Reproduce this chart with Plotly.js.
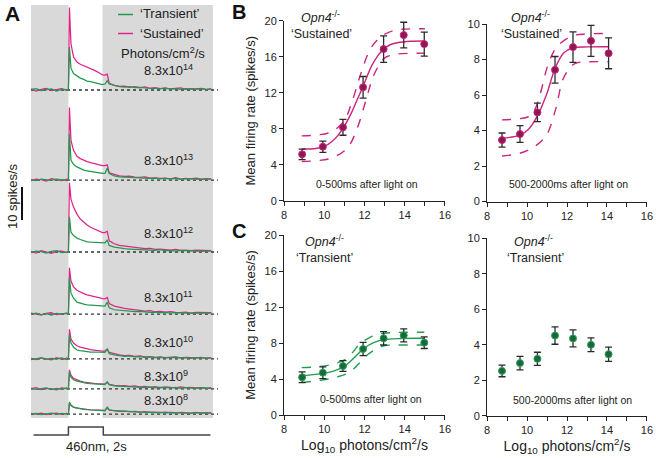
<!DOCTYPE html>
<html><head><meta charset="utf-8">
<script src="https://cdn.plot.ly/plotly-3.0.1.min.js"></script>
<style>html,body{margin:0;padding:0;background:#fff}#chart{width:656px;height:458px}</style>
</head><body><div id="chart"></div>
<script>
// ---------- Panel A: PSTH traces (spikes/s) ----------
const T = [-2.2,-1.9,-1.6,-1.3,-1.0,-0.7,-0.4,-0.1,0,
  0.06,0.15,0.3,0.5,0.7,0.9,1.1,1.3,1.5,1.7,1.9,2.0,
  2.15,2.28,
  2.4,2.7,3.0,3.3,3.6,3.9,4.2,4.5,4.8,5.1,5.4,5.7,6.0,6.3,6.6,6.9,7.2,7.5,7.8,8.1,8.4];
const sus14 = [0.3,-0.3,0.2,0.5,-0.2,0.1,0.4,-0.1,0.0, 25,14,10,8.5,7.8,7.4,6.9,6.4,6.0,5.5,5.0,4.6, 4.5,4.8, 2.0,1.4,1.1,1.2,0.8,1.0,0.7,0.9,0.5,0.7,0.4,0.6,0.3,0.5,0.6,0.2,0.4,0.3,0.5,0.2,0.3];
const tra14 = [0.2,0.4,-0.2,0.1,0.3,-0.3,0.2,0.1,0.0, 13,6.6,5.0,4.3,3.6,3.2,2.7,2.5,2.2,1.9,1.6,1.6, 1.8,2.8, 1.8,1.3,1.0,0.9,1.0,0.7,0.8,0.6,0.5,0.6,0.4,0.5,0.3,0.4,0.2,0.4,0.3,0.2,0.4,0.1,0.3];
const sus13 = [-0.2,0.3,0.1,-0.3,0.4,0.0,-0.2,0.3,0.0, 22,12,9.0,7.2,6.5,6.0,5.6,5.3,5.0,4.8,4.6,4.4, 4.4,4.6, 2.2,1.7,1.3,1.1,1.2,0.9,0.8,1.0,0.6,0.7,0.5,0.6,0.4,0.7,0.3,0.5,0.4,0.6,0.3,0.4,0.3];
const tra13 = [0.1,-0.2,0.3,0.2,-0.1,0.3,0.1,-0.2,0.0, 14,6.0,4.8,4.0,3.4,3.0,2.8,2.6,2.4,2.2,2.1,2.0, 2.0,3.6, 2.0,1.3,1.0,0.9,0.8,0.9,0.6,0.7,0.5,0.6,0.4,0.5,0.3,0.5,0.2,0.4,0.3,0.4,0.2,0.3,0.3];
const sus12 = [0.2,-0.3,0.4,0.0,-0.4,0.2,0.3,-0.1,0.0, 21,16,13.6,11.5,10,9,8.2,7.5,7.0,6.5,6.1,5.9, 5.9,6.3, 3.4,2.5,2.0,1.8,1.5,1.3,1.2,1.0,1.1,0.8,0.9,0.7,0.6,0.8,0.5,0.6,0.4,0.6,0.5,0.3,0.4];
const tra12 = [-0.1,0.3,0.1,-0.3,0.2,0.4,-0.2,0.1,0.0, 10.6,6.0,5.0,4.2,3.8,3.4,3.1,3.0,2.9,2.8,2.9,2.8, 2.8,3.6, 2.0,1.5,1.2,1.0,0.9,0.8,0.9,0.7,0.6,0.5,0.7,0.4,0.5,0.3,0.5,0.4,0.3,0.4,0.2,0.3,0.3];
const sus11 = [0.3,0.0,-0.3,0.2,0.4,-0.2,0.1,0.3,0.0, 14,10,8.2,7.2,6.6,6.2,5.8,5.5,5.2,5.0,4.8,4.7, 4.6,5.0, 3.2,2.4,2.0,1.7,1.5,1.2,1.1,0.9,1.0,0.7,0.8,0.6,0.7,0.5,0.4,0.6,0.3,0.5,0.4,0.3,0.4];
const tra11 = [0.0,0.3,-0.2,0.1,-0.3,0.2,0.0,0.2,0.0, 11,6.4,4.8,3.6,3.2,3.0,2.8,2.7,2.6,2.5,2.5,2.4, 2.4,3.6, 1.9,1.3,1.1,0.9,0.8,0.7,0.8,0.6,0.5,0.6,0.4,0.5,0.3,0.4,0.3,0.4,0.2,0.3,0.3,0.2,0.3];
const sus10 = [0.2,-0.2,0.3,0.1,-0.3,0.4,-0.1,0.2,0.0, 9,6,4.8,4.0,3.6,3.3,3.0,2.8,2.7,2.5,2.4,2.4, 2.4,3.0, 2.0,1.5,1.2,1.0,1.1,0.8,0.9,0.6,0.7,0.5,0.6,0.4,0.5,0.6,0.3,0.5,0.4,0.3,0.5,0.2,0.3];
const tra10 = [-0.2,0.1,0.3,-0.1,0.2,0.0,0.3,-0.2,0.0, 7.3,4.8,3.6,2.7,2.5,2.3,2.2,2.1,2.1,2.0,2.0,2.0, 2.0,3.0, 1.6,1.2,1.0,0.8,0.9,0.6,0.7,0.5,0.6,0.4,0.5,0.3,0.4,0.5,0.3,0.4,0.2,0.4,0.3,0.2,0.3];
const sus9 = [0.1,0.4,-0.2,0.2,0.0,-0.3,0.3,0.1,0.0, 5.8,4.2,3.2,2.7,2.4,2.1,1.9,1.8,1.7,1.6,1.5,1.5, 1.5,2.1, 1.4,1.1,0.9,1.0,0.8,0.9,0.6,0.8,0.5,0.7,0.4,0.6,0.5,0.3,0.6,0.4,0.5,0.3,0.4,0.2,0.4];
const tra9 = [0.2,-0.1,0.1,0.3,-0.2,0.2,-0.1,0.3,0.0, 5.2,3.6,2.8,2.4,2.1,1.9,1.7,1.6,1.5,1.4,1.4,1.3, 1.3,2.1, 1.3,0.9,0.8,0.7,0.8,0.5,0.6,0.4,0.6,0.3,0.5,0.4,0.3,0.5,0.2,0.4,0.3,0.2,0.4,0.3,0.2];
const sus8 = [0.2,0.0,0.3,-0.2,0.1,0.3,-0.1,0.2,0.0, 3.3,2.6,2.1,1.8,1.6,1.5,1.4,1.3,1.3,1.2,1.2,1.1, 1.1,1.9, 1.2,1.0,0.8,0.9,0.7,0.8,0.6,0.7,0.5,0.6,0.4,0.6,0.5,0.3,0.5,0.4,0.3,0.5,0.2,0.4,0.3];
const tra8 = [0.0,0.2,-0.2,0.1,0.3,-0.1,0.2,0.0,0.0, 3.6,2.7,2.1,1.8,1.5,1.4,1.3,1.2,1.2,1.1,1.1,1.0, 1.0,2.1, 1.3,1.0,0.9,0.8,0.7,0.8,0.6,0.5,0.6,0.4,0.5,0.3,0.5,0.4,0.3,0.4,0.2,0.4,0.3,0.2,0.3];
const intensityLabels = ['8.3x10<sup>14</sup>','8.3x10<sup>13</sup>','8.3x10<sup>12</sup>','8.3x10<sup>11</sup>','8.3x10<sup>10</sup>','8.3x10<sup>9</sup>','8.3x10<sup>8</sup>'];
const stimT = [-2.05, 0, 0, 2.05, 2.05, 8.35];
const stimV = [0, 0, 1, 1, 0, 0];

// ---------- Panels B/C: irradiance-response ----------
const logIrrLeft  = [8.9, 9.93, 10.93, 11.93, 12.95, 13.95, 14.97];
const logIrrRight = [8.75, 9.65, 10.52, 11.4, 12.3, 13.2, 14.08];
const susEarly    = [5.15, 6.0, 8.15, 12.6, 16.85, 18.4, 17.4];
const susEarlyErr = [0.58, 0.63, 0.88, 1.2, 1.47, 1.43, 1.33];
const susLate     = [3.46, 3.8, 5.02, 7.42, 8.7, 9.05, 8.35];
const susLateErr  = [0.4, 0.47, 0.52, 0.75, 0.86, 0.87, 0.87];
const traEarly    = [4.19, 4.7, 5.44, 7.33, 8.52, 8.85, 8.04];
const traEarlyErr = [0.6, 0.65, 0.6, 0.74, 0.74, 0.72, 0.65];
const traLate     = [2.53, 2.97, 3.21, 4.52, 4.36, 4.0, 3.47];
const traLateErr  = [0.33, 0.38, 0.37, 0.49, 0.48, 0.39, 0.4];

// fitted curves and 95% bands
const fitSusEarlyX = [8.88,9.5,9.97,10.4,10.88,11.38,11.65,11.93,12.38,12.88,13.25,13.63,14.3,15.0];
const fitSusEarlyY = [5.74,5.78,6.0,6.6,7.85,9.9,11.3,12.7,15.1,16.7,17.3,17.55,17.72,17.75];
const upSusEarlyX = [8.88,9.6,10.3,10.97,11.38,11.8,12.3,12.8,13.2,13.63,15.0];
const upSusEarlyY = [7.2,7.3,7.6,8.8,11.0,14.0,16.9,18.2,18.7,19.0,19.1];
const loSusEarlyX = [8.88,9.6,10.3,11.13,11.63,12.05,12.47,12.97,13.3,13.63,15.0];
const loSusEarlyY = [4.35,4.45,4.7,5.8,8.0,11.0,14.0,15.8,16.15,16.3,16.4];

const fitSusLateX = [8.75,9.67,10.1,10.5,11.0,11.37,11.82,12.3,13.0,14.07];
const fitSusLateY = [3.56,3.75,4.1,4.78,6.1,7.4,8.35,8.66,8.71,8.72];
const upSusLateX = [8.75,9.5,10.08,10.4,10.67,11.08,11.5,12.25,13.0,14.07];
const upSusLateY = [4.6,4.65,4.78,5.2,6.1,7.8,8.72,9.32,9.44,9.47];
const loSusLateX = [8.75,9.5,10.08,10.92,11.42,11.82,12.3,12.6,13.0,14.07];
const loSusLateY = [2.56,2.68,2.9,3.65,5.15,6.94,7.7,7.84,7.87,7.88];

const fitTraEarlyX = [8.88,9.97,10.5,10.97,11.5,11.97,12.45,12.97,13.8,14.97];
const fitTraEarlyY = [4.37,4.63,4.9,5.37,6.4,7.4,8.05,8.38,8.5,8.52];
const upTraEarlyX = [8.88,9.8,10.5,11.13,11.8,12.25,12.63,13.3,14.97];
const upTraEarlyY = [5.26,5.4,5.7,6.3,7.97,8.6,8.96,9.15,9.19];
const loTraEarlyX = [8.88,9.8,10.6,11.3,12.13,12.55,12.97,13.6,14.97];
const loTraEarlyY = [3.63,3.85,4.2,4.82,6.67,7.3,7.7,7.77,7.78];

// ---------- styling / layout constants ----------
const FONT = 'Arial, "Liberation Sans", sans-serif';
const MAG = '#e0248a', GRN = '#1f9a4e';
const MAGC = '#cc2380', GRNC = '#229c50';
const W = 656, H = 458;
const px = v => v / W, py = v => 1 - v / H;
const OFFSETS = [99.4, 72.1, 50.3, 31.5, 17.9, 8.8, 1.2]; // stacking baselines (layout)
const labelY = [70, 160, 233, 297, 342, 376, 400];

const susSeries = [sus14, sus13, sus12, sus11, sus10, sus9, sus8];
const traSeries = [tra14, tra13, tra12, tra11, tra10, tra9, tra8];

const data = [];
for (let i = 0; i < 7; i++) {
  data.push({x: T, y: susSeries[i].map(v => v + OFFSETS[i]), xaxis: 'x', yaxis: 'y', type: 'scatter', mode: 'lines',
    line: {color: MAG, width: 1.25}, showlegend: false, hoverinfo: 'skip'});
}
for (let i = 0; i < 7; i++) {
  data.push({x: T, y: traSeries[i].map(v => v + OFFSETS[i]), xaxis: 'x', yaxis: 'y', type: 'scatter', mode: 'lines',
    line: {color: GRN, width: 1.25}, showlegend: false, hoverinfo: 'skip'});
}
data.push({x: stimT, y: stimV, xaxis: 'x', yaxis: 'y8', type: 'scatter', mode: 'lines',
  line: {color: '#444', width: 1.5}, showlegend: false});

function curve(x, y, ax, col, dash) {
  return {x, y, xaxis: 'x' + ax, yaxis: 'y' + ax, type: 'scatter', mode: 'lines',
    line: {color: col, width: 1.4, dash: dash || 'solid', shape: 'spline', smoothing: 1}, showlegend: false};
}
function pts(x, y, e, ax, fill, edge) {
  return {x, y, xaxis: 'x' + ax, yaxis: 'y' + ax, type: 'scatter', mode: 'markers',
    marker: {size: 7, color: fill, line: {color: edge, width: 1}},
    error_y: {type: 'data', array: e, visible: true, color: '#2a2a2a', thickness: 1.3, width: 3.5},
    showlegend: false};
}
data.push(curve(upSusEarlyX, upSusEarlyY, 2, MAGC, 'dash'));
data.push(curve(loSusEarlyX, loSusEarlyY, 2, MAGC, 'dash'));
data.push(curve(fitSusEarlyX, fitSusEarlyY, 2, MAGC));
data.push(pts(logIrrLeft, susEarly, susEarlyErr, 2, '#8c1a52', '#d0207f'));

data.push(curve(upSusLateX, upSusLateY, 3, MAGC, 'dash'));
data.push(curve(loSusLateX, loSusLateY, 3, MAGC, 'dash'));
data.push(curve(fitSusLateX, fitSusLateY, 3, MAGC));
data.push(pts(logIrrRight, susLate, susLateErr, 3, '#8c1a52', '#d0207f'));

data.push(curve(upTraEarlyX, upTraEarlyY, 4, GRNC, 'dash'));
data.push(curve(loTraEarlyX, loTraEarlyY, 4, GRNC, 'dash'));
data.push(curve(fitTraEarlyX, fitTraEarlyY, 4, GRNC));
data.push(pts(logIrrLeft, traEarly, traEarlyErr, 4, '#17693a', '#2ca05a'));

data.push(pts(logIrrRight, traLate, traLateErr, 5, '#17693a', '#2ca05a'));

const axStyle = {showline: true, linecolor: '#222', linewidth: 1, ticks: 'outside', ticklen: 4, tickwidth: 1,
  tickcolor: '#222', showgrid: false, zeroline: false, tickfont: {family: FONT, size: 11, color: '#222'}};
function xax(dom, anchor, withTitle) {
  const a = Object.assign({}, axStyle, {domain: dom, anchor: anchor, range: [7.999, 16.001], tick0: 8, dtick: 2,
    minor: {dtick: 1, ticks: 'outside', ticklen: 4, tickcolor: '#222', showgrid: false}});
  if (withTitle) a.title = {text: 'Log<sub>10</sub> photons/cm<sup>2</sup>/s', font: {family: FONT, size: 14, color: '#222'}, standoff: 3};
  return a;
}
function yax(dom, anchor, top, dt, withTitle) {
  const a = Object.assign({}, axStyle, {domain: dom, anchor: anchor, range: [0, top], tick0: 0, dtick: dt});
  if (withTitle) a.title = {text: 'Mean firing rate (spikes/s)', font: {family: FONT, size: 13, color: '#222'}, standoff: 5};
  return a;
}
const xL = [px(284), px(445)], xR = [px(487), px(647)];

const layout = {
  width: W, height: H, margin: {l: 0, r: 0, t: 0, b: 0}, paper_bgcolor: '#fff', plot_bgcolor: 'rgba(0,0,0,0)',
  font: {family: FONT, color: '#222'}, showlegend: false,
  xaxis: {domain: [px(31), px(213)], range: [-2.2, 8.5], visible: false, anchor: 'y'},
  yaxis: {domain: [py(418), py(5)], range: [0, 125.15], visible: false, anchor: 'x'},
  yaxis8: {domain: [py(437), py(425)], range: [-0.25, 1.25], visible: false, anchor: 'x'},
  xaxis2: xax(xL, 'y2', false), yaxis2: yax([py(200.7), py(20.7)], 'x2', 20, 4, true),
  xaxis3: xax(xR, 'y3', false), yaxis3: yax([py(201.5), py(24)], 'x3', 10, 2, false),
  xaxis4: xax(xL, 'y4', true), yaxis4: yax([py(415), py(235)], 'x4', 20, 4, true),
  xaxis5: xax(xR, 'y5', true), yaxis5: yax([py(415.8), py(238.3)], 'x5', 10, 2, false),
  shapes: [], annotations: []
};

// grey background for panel A
layout.shapes.push({type: 'rect', xref: 'x', yref: 'y domain', x0: -2.2, x1: 0, y0: 0, y1: 1, fillcolor: '#d9d9d9', line: {width: 0}, layer: 'below'});
layout.shapes.push({type: 'rect', xref: 'x', yref: 'y domain', x0: 2, x1: 8.5, y0: 0, y1: 1, fillcolor: '#d9d9d9', line: {width: 0}, layer: 'below'});
// dotted baselines
OFFSETS.forEach(o => layout.shapes.push({type: 'line', xref: 'paper', yref: 'y', x0: px(31), x1: px(218), y0: o, y1: o,
  line: {color: '#333', width: 1.3, dash: 'dot'}, layer: 'below'}));
// scale bar (10 spikes/s)
layout.shapes.push({type: 'line', xref: 'paper', yref: 'y', x0: px(22), x1: px(22), y0: 60, y1: 70, line: {color: '#111', width: 2}});
// legend swatches
layout.shapes.push({type: 'line', xref: 'paper', yref: 'paper', x0: px(118), x1: px(133), y0: py(14.5), y1: py(14.5), line: {color: GRN, width: 1.5}});
layout.shapes.push({type: 'line', xref: 'paper', yref: 'paper', x0: px(118), x1: px(133), y0: py(33.5), y1: py(33.5), line: {color: MAG, width: 1.5}});

function ann(text, x, y, opt) {
  layout.annotations.push(Object.assign({text, x: px(x), y: py(y), xref: 'paper', yref: 'paper', showarrow: false,
    xanchor: 'center', yanchor: 'middle', font: {family: FONT, size: 13, color: '#222'}}, opt || {}));
}
const small = {font: {family: FONT, size: 10.5, color: '#222'}};
const mid = {font: {family: FONT, size: 12.5, color: '#222'}};
ann('<b>A</b>', 12, 13, {font: {family: FONT, size: 21, color: '#111'}});
ann('<b>B</b>', 239, 12, {font: {family: FONT, size: 20, color: '#111'}});
ann('<b>C</b>', 239, 231, {font: {family: FONT, size: 20, color: '#111'}});
ann('\u2018Transient\u2019', 138, 14, {xanchor: 'left'});
ann('\u2018Sustained\u2019', 138, 33, {xanchor: 'left'});
ann('Photons/cm<sup>2</sup>/s', 163, 53);
intensityLabels.forEach((t, i) => ann(t, 142, labelY[i], {xanchor: 'left'}));
ann('10 spikes/s', 12, 196, {textangle: -90});
ann('460nm, 2s', 96, 446);

ann('<i>Opn4</i><sup>-/-</sup>', 320, 17, mid);
ann('\u2018Sustained\u2019', 321, 34, mid);
ann('0-500ms after light on', 367, 184, small);
ann('<i>Opn4</i><sup>-/-</sup>', 530, 17, mid);
ann('\u2018Sustained\u2019', 531, 34, mid);
ann('500-2000ms after light on', 568, 184, small);
ann('<i>Opn4</i><sup>-/-</sup>', 324, 241, mid);
ann('\u2018Transient\u2019', 324, 258, mid);
ann('0-500ms after light on', 371, 399, small);
ann('<i>Opn4</i><sup>-/-</sup>', 533, 241, mid);
ann('\u2018Transient\u2019', 535, 258, mid);
ann('500-2000ms after light on', 572, 400, small);

Plotly.newPlot('chart', data, layout, {staticPlot: true, displayModeBar: false});
</script>
</body></html>
